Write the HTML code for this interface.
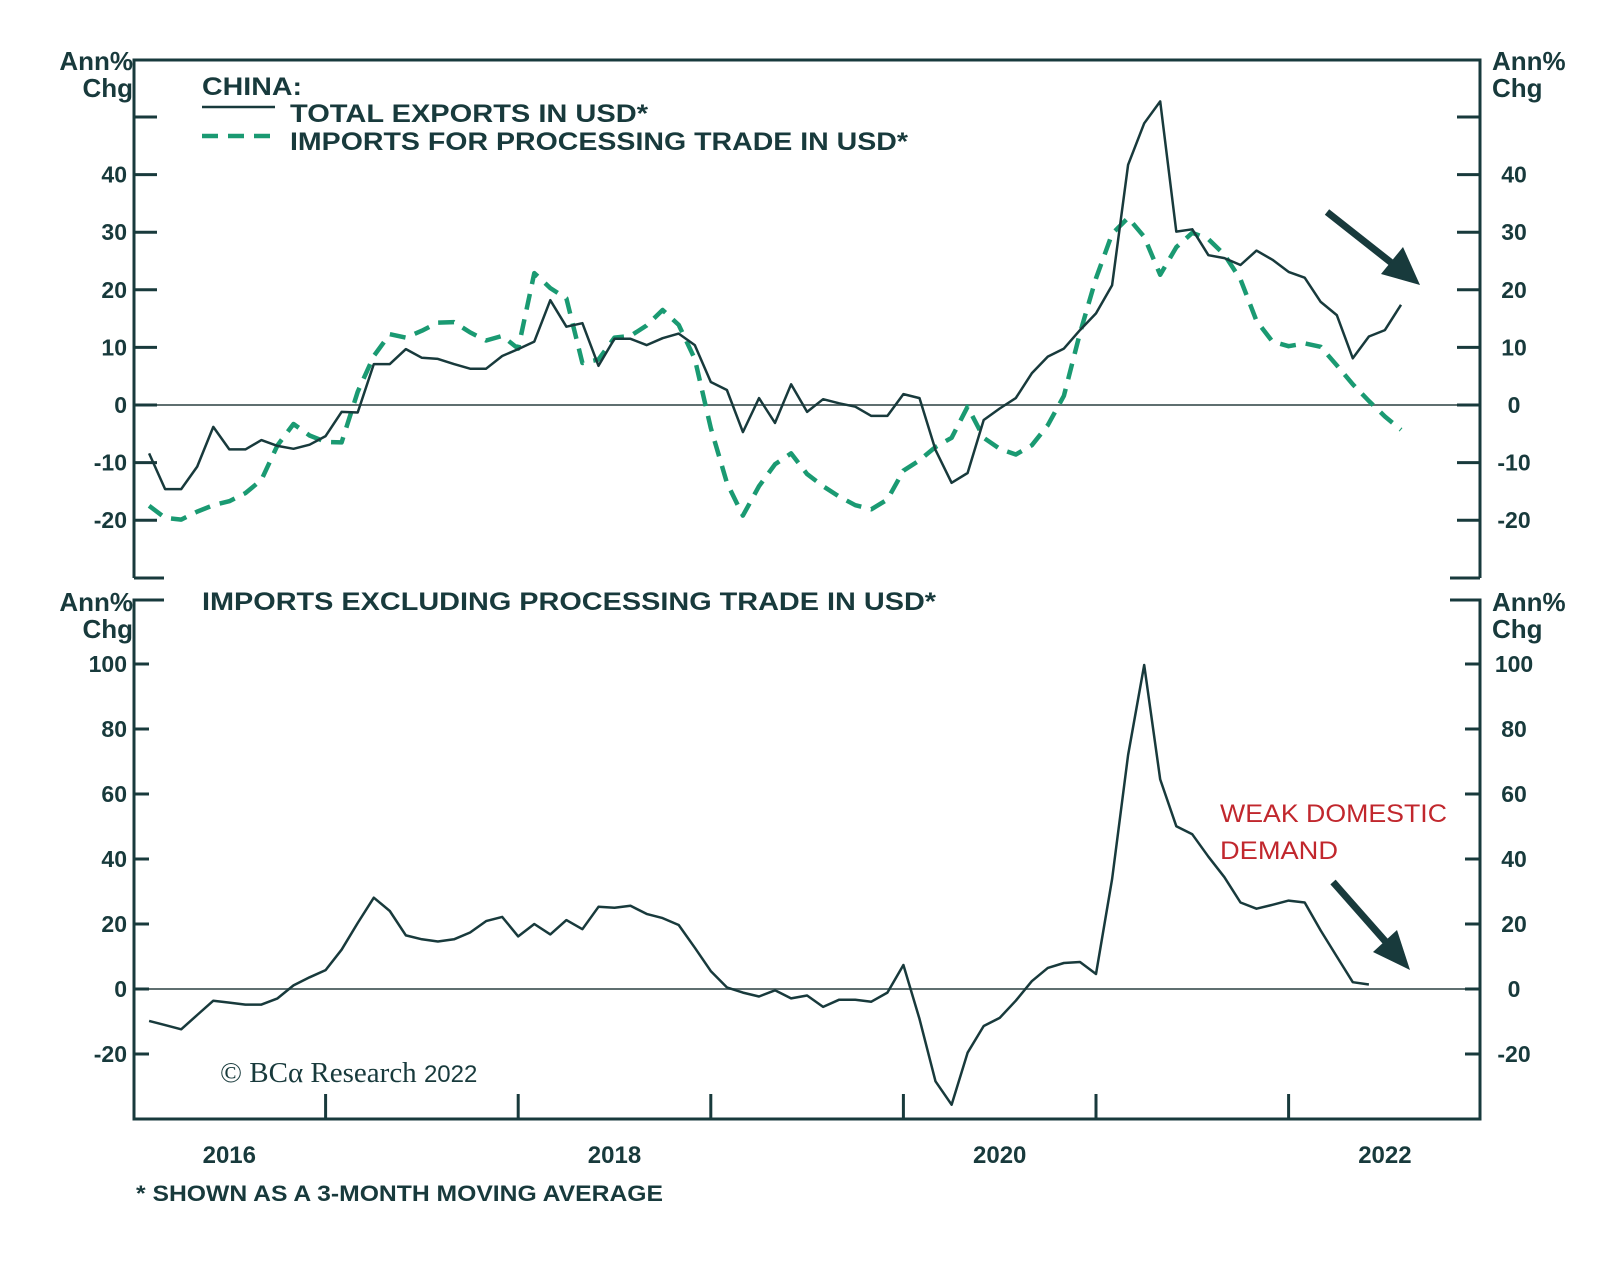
<!DOCTYPE html>
<html><head><meta charset="utf-8"><style>
html,body{margin:0;padding:0;background:#fff;}
svg{display:block;}
text{font-family:"Liberation Sans",sans-serif;fill:#183a3c;}
</style></head><body>
<svg id="chart" width="1600" height="1268" viewBox="0 0 1600 1268" xmlns="http://www.w3.org/2000/svg">
<g id="static">
  <!-- top panel frame -->
  <path d="M134,578 L134,60 L1480,60 L1480,578" fill="none" stroke="#183a3c" stroke-width="3"/>
  <line x1="134" y1="578" x2="164" y2="578" stroke="#183a3c" stroke-width="3"/>
  <line x1="1450" y1="578" x2="1480" y2="578" stroke="#183a3c" stroke-width="3"/>
  <!-- bottom panel frame -->
  <path d="M164,600 L134,600 L134,1119 L1480,1119 L1480,600 L1450,600" fill="none" stroke="#183a3c" stroke-width="3"/>

  <text x="133" y="70" font-size="26" font-weight="bold" text-anchor="end">Ann%</text>
  <text x="133" y="97" font-size="26" font-weight="bold" text-anchor="end">Chg</text>
  <text x="1492" y="70" font-size="26" font-weight="bold">Ann%</text>
  <text x="1492" y="97" font-size="26" font-weight="bold">Chg</text>
  <text x="133" y="611" font-size="26" font-weight="bold" text-anchor="end">Ann%</text>
  <text x="133" y="638" font-size="26" font-weight="bold" text-anchor="end">Chg</text>
  <text x="1492" y="611" font-size="26" font-weight="bold">Ann%</text>
  <text x="1492" y="638" font-size="26" font-weight="bold">Chg</text>

  <!-- legend -->
  <text x="202" y="95" font-size="25" font-weight="bold" textLength="100" lengthAdjust="spacingAndGlyphs">CHINA:</text>
  <line x1="202" y1="107" x2="275" y2="107" stroke="#183a3c" stroke-width="2.5"/>
  <text x="290" y="122" font-size="25" font-weight="bold" textLength="358" lengthAdjust="spacingAndGlyphs">TOTAL EXPORTS IN USD*</text>
  <line x1="202" y1="136" x2="275" y2="136" stroke="#1a9a72" stroke-width="4.5" stroke-dasharray="16,10"/>
  <text x="290" y="150" font-size="25" font-weight="bold" textLength="618" lengthAdjust="spacingAndGlyphs">IMPORTS FOR PROCESSING TRADE IN USD*</text>

  <text x="202" y="610" font-size="25" font-weight="bold" textLength="734" lengthAdjust="spacingAndGlyphs">IMPORTS EXCLUDING PROCESSING TRADE IN USD*</text>

  <text x="1220" y="822" font-size="25" fill="#c1272d" style="fill:#c1272d" textLength="227" lengthAdjust="spacingAndGlyphs">WEAK DOMESTIC</text>
  <text x="1220" y="859" font-size="25" fill="#c1272d" style="fill:#c1272d" textLength="118" lengthAdjust="spacingAndGlyphs">DEMAND</text>

  <!-- arrows -->
  <g>
    <line x1="1327" y1="212" x2="1398" y2="268" stroke="#183a3c" stroke-width="7"/>
    <polygon points="1420,285 1381,274 1403,247" fill="#183a3c"/>
  </g>
  <g>
    <line x1="1333" y1="882" x2="1393" y2="950" stroke="#183a3c" stroke-width="7"/>
    <polygon points="1410,970 1373,952 1397,930" fill="#183a3c"/>
  </g>

  <text x="220" y="1082" font-size="29" style="font-family:'Liberation Serif',serif">© BCα Research <tspan font-size="24" style="font-family:'Liberation Sans',sans-serif">2022</tspan></text>
  <text x="136" y="1201" font-size="22" font-weight="bold" textLength="527" lengthAdjust="spacingAndGlyphs">* SHOWN AS A 3-MONTH MOVING AVERAGE</text>
</g>
<g id="dyn"></g>
</svg>
<script>
const topTicks = [50, 40, 30, 20, 10, 0, -10, -20];
const topTickLabels = ["", "40", "30", "20", "10", "0", "-10", "-20"];
const botTicks = [100, 80, 60, 40, 20, 0, -20];
const botTickLabels = ["100", "80", "60", "40", "20", "0", "-20"];
const yearTicks = [1, 2, 3, 4, 5, 6];
const yearLabels = ["2016", "2018", "2020", "2022"];
const yearLabelPos = [0.5, 2.5, 4.5, 6.5];

const exportsStartMonth = 1;
const exportsValues = [-8.4,-14.6,-14.6,-10.7,-3.8,-7.7,-7.7,-6.1,-7.1,-7.6,-6.9,-5.4,-1.2,-1.3,7.1,7.1,9.7,8.2,8.0,7.1,6.3,6.3,8.5,9.7,11,18.2,13.6,14.2,6.8,11.5,11.5,10.4,11.6,12.4,
10.4,4,2.6,-4.7,1.2,-3.1,3.6,-1.2,1,0.3,-0.3,-1.9,-1.9,1.9,1.2,-7.8,-13.5,-11.8,-2.6,-0.6,1.2,5.5,8.4,9.8,13,15.9,20.8,41.7,48.9,52.7,30.1,30.5,26,25.5,24.3,26.8,25.2,23.1,22.1,17.9,15.6,8.1,11.9,13,17.4];

const processingStartMonth = 1;
const processingValues = [-17.5,-19.6,-19.9,-18.5,-17.4,-16.7,-15.3,-13,-7,-3.3,-5.3,-6.4,-6.5,2.3,8.5,12.3,11.7,12.9,14.3,14.4,12.6,11.2,12,9.8,22.9,20.3,18.5,7.3,7.9,11.7,12,13.8,16.5,13.9,8,-4,-13.5,-19.2,-14.1,-10.3,-8.4,-12,-14.1,-15.9,-17.4,-18.1,-16.4,-11.4,-9.6,-7.3,-5.7,-0.3,-5.7,-7.6,-8.6,-7,-3.5,1.6,12.5,22,29.7,32.5,29.2,22.6,27.4,29.9,28.8,26.1,21.8,14.6,11,10.2,10.7,10.1,6.9,3.6,0.7,-2,-4.3];

const exclProcStartMonth = 1;
const exclProcValues = [-9.8,-11.1,-12.4,-8,-3.6,-4.2,-4.8,-4.8,-2.9,1.1,3.6,5.8,12.1,20.3,28.1,24,16.5,15.3,14.6,15.3,17.4,20.9,22.2,16.2,20,16.8,21.2,18.4,25.3,25,25.6,23.1,21.8,19.7,12.7,5.5,0.5,-1.1,-2.3,-0.4,-2.9,-2,-5.5,-3.3,-3.3,-3.9,-1.1,7.4,-9.2,-28.4,-35.6,-19.6,-11.4,-8.9,-3.6,2.4,6.5,8,8.3,4.6,33.8,72,99.7,64.5,50.1,47.6,40.7,34.4,26.6,24.7,25.9,27.2,26.6,18,10,2.1,1.4];

const X0 = 133, PX_PER_MONTH = 16.05;
function xScale(m){ return X0 + PX_PER_MONTH * m; }
function yTop(v){ return 405 - 5.76 * v; }
function yBot(v){ return 989 - 3.25 * v; }

const NS = "http://www.w3.org/2000/svg";
const dyn = document.getElementById("dyn");
function mk(tag, attrs){ const e = document.createElementNS(NS, tag); for (const k in attrs) e.setAttribute(k, attrs[k]); dyn.appendChild(e); return e; }

// zero lines
let z1 = mk("line", {x1:134, x2:1480, y1:yTop(0), y2:yTop(0), stroke:"#5f6f70", "stroke-width":2});


let z2 = mk("line", {x1:134, x2:1480, y1:yBot(0), y2:yBot(0), stroke:"#5f6f70", "stroke-width":2});



// top ticks
topTicks.forEach((t, i) => {
  const y = yTop(t);
  const l = mk("line", {x1:134, x2:157, y1:y, y2:y, stroke:"#183a3c", "stroke-width":3});
  
  
  const r = mk("line", {x1:1457, x2:1480, y1:y, y2:y, stroke:"#183a3c", "stroke-width":3});
  
  
  if (topTickLabels[i]) {
    const a = mk("text", {x:127, y:y+8, "font-size":23, "font-weight":"bold", "text-anchor":"end"});
    a.textContent = topTickLabels[i];
    
    
    const b = mk("text", {x:1514, y:y+8, "font-size":23, "font-weight":"bold", "text-anchor":"middle"});
    b.textContent = topTickLabels[i];
    
    
  }
});
// bottom ticks
botTicks.forEach((t, i) => {
  const y = yBot(t);
  const l = mk("line", {x1:134, x2:149, y1:y, y2:y, stroke:"#183a3c", "stroke-width":3});
  
  
  const r = mk("line", {x1:1465, x2:1480, y1:y, y2:y, stroke:"#183a3c", "stroke-width":3});
  
  
  const a = mk("text", {x:127, y:y+8, "font-size":23, "font-weight":"bold", "text-anchor":"end"});
  a.textContent = botTickLabels[i];
  
  
  const b = mk("text", {x:1514, y:y+8, "font-size":23, "font-weight":"bold", "text-anchor":"middle"});
  b.textContent = botTickLabels[i];
  
  
});
// year ticks
yearTicks.forEach(k => {
  const x = xScale(k * 12);
  const l = mk("line", {x1:x, x2:x, y1:1119, y2:1094, stroke:"#183a3c", "stroke-width":3});
  
  
});
yearLabels.forEach((s, i) => {
  const t = mk("text", {x:xScale(yearLabelPos[i] * 12), y:1163, "font-size":24, "font-weight":"bold", "text-anchor":"middle"});
  t.textContent = s;
  
  
});

function pathFor(start, vals, yf){
  return vals.map((v, i) => (i ? "L" : "M") + xScale(start + i).toFixed(1) + "," + yf(v).toFixed(1)).join(" ");
}
const p1 = mk("path", {d:pathFor(processingStartMonth, processingValues, yTop), fill:"none", stroke:"#1a9a72", "stroke-width":4.5, "stroke-dasharray":"16,10", "stroke-linejoin":"round"});


const p2 = mk("path", {d:pathFor(exportsStartMonth, exportsValues, yTop), fill:"none", stroke:"#183a3c", "stroke-width":2.5, "stroke-linejoin":"round"});


const p3 = mk("path", {d:pathFor(exclProcStartMonth, exclProcValues, yBot), fill:"none", stroke:"#183a3c", "stroke-width":2.5, "stroke-linejoin":"round"});


</script>
</body></html>
